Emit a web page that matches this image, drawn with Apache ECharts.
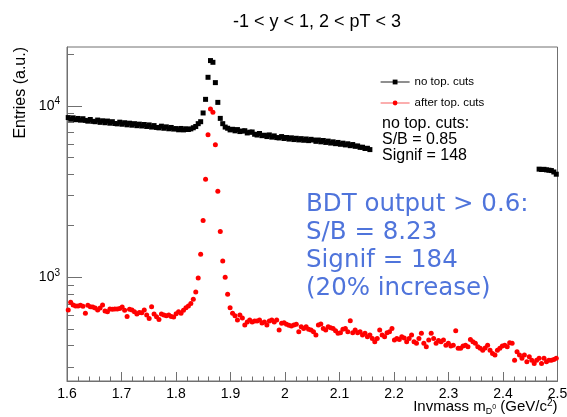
<!DOCTYPE html>
<html>
<head>
<meta charset="utf-8">
<script src="https://cdn.jsdelivr.net/npm/echarts@6/dist/echarts.min.js"></script>
<style>
  html, body { margin: 0; padding: 0; background: #fff; }
  #chart { width: 567px; height: 417px; }
</style>
</head>
<body>
<div id="chart"></div>
<script>
// Histogram binning of the invariant-mass axis
const massLow = 1.6;
const massHigh = 2.5;
const binWidth = 0.0045;

// "no top. cuts": visible bins 0..123 and 192..199
const noCutsLow = [
  8520, 8330, 8490, 8280, 8420, 8230, 8390, 8200, 8120, 8300,
  8100, 8060, 8240, 7990, 8160, 7950, 8130, 7900, 8060, 7870,
  7830, 8010, 7790, 7950, 7730, 7900, 7690, 7850, 7640, 7800,
  7610, 7760, 7560, 7720, 7500, 7650, 7460, 7420, 7590, 7380,
  7520, 7330, 7460, 7300, 7350, 7230, 7360, 7220, 7330, 7260,
  7320, 7430, 7560, 7850, 8060, 9064, 10885, 14640, 18330, 17910,
  13630, 10450, 8428, 7850, 7500, 7380, 7220, 7280, 7130, 7250,
  7060, 7110, 7140, 6930, 7000, 7020, 6810, 6740, 6880, 6680,
  6720, 6600, 6750, 6550, 6660, 6510, 6480, 6600, 6430, 6520,
  6380, 6490, 6340, 6450, 6310, 6420, 6280, 6390, 6250, 6360,
  6300, 6190, 6300, 6150, 6260, 6100, 6210, 6050, 6150, 6000,
  6100, 5950, 6040, 5900, 5990, 5840, 5930, 5790, 5820, 5710,
  5720, 5620, 5640, 5540
];
const noCutsHighFirstBin = 192;
const noCutsHigh = [4260, 4240, 4250, 4220, 4200, 4180, 4100, 3980];

// "after top. cuts": bins 0..199
const afterCuts = [
  641, 711, 686, 677, 677, 683, 675, 613, 683, 670,
  668, 660, 641, 660, 686, 633, 627, 650, 648, 650,
  650, 655, 668, 640, 587, 648, 641, 627, 608, 620,
  618, 641, 600, 572, 670, 608, 585, 565, 608, 599,
  594, 599, 587, 583, 610, 627, 613, 640, 662, 677,
  700, 740, 817, 987, 1357, 2134, 3725, 6763, 9567, 9144,
  5915, 3170, 1842, 1240, 996, 792, 661, 613, 594, 561,
  599, 576, 524, 545, 561, 545, 553, 553, 561, 538,
  545, 524, 553, 561, 545, 561, 490, 536, 540, 529,
  522, 517, 524, 529, 479, 512, 501, 512, 495, 490,
  479, 458, 524, 531, 501, 490, 512, 505, 501, 485,
  469, 472, 495, 501, 479, 555, 472, 490, 472, 479,
  458, 469, 448, 458, 438, 418, 438, 490, 458, 448,
  472, 479, 501, 428, 438, 432, 448, 440, 418, 438,
  458, 418, 410, 438, 469, 410, 391, 428, 469, 438,
  410, 425, 418, 428, 400, 410, 395, 400, 485, 383,
  383, 395, 400, 391, 432, 418, 410, 391, 383, 374,
  385, 400, 374, 358, 350, 374, 383, 395, 400, 392,
  413, 410, 327, 366, 350, 335, 350, 320, 342, 327,
  313, 327, 335, 313, 335, 320, 327, 327, 330, 335
];

// Axis ticks
const yMin = 247, yMax = 22000;
const yMajorTicks = [1000, 10000];
const yMinorTicks = [300, 400, 500, 600, 700, 800, 900, 2000, 3000, 4000, 5000, 6000, 7000, 8000, 9000, 20000];

const seriesNames = ['no top. cuts', 'after top. cuts'];
const noteLines = ['no top. cuts:', 'S/B = 0.85', 'Signif = 148'];
const bdtLines = ['BDT output > 0.6:', 'S/B = 8.23', 'Signif = 184', '(20% increase)'];

function binCenter(i) { return massLow + binWidth * (i + 0.5); }

const noCutsPoints = noCutsLow.map((v, i) => [binCenter(i), v])
  .concat(noCutsHigh.map((v, k) => [binCenter(noCutsHighFirstBin + k), v]));
const afterCutsPoints = afterCuts.map((v, i) => [binCenter(i), v]);
const yTickPoints = yMajorTicks.concat(yMinorTicks).map(v => [massLow, v]);

const frameColor = '#707070';
const font = '"Liberation Sans", Arial, Helvetica, sans-serif';

const chart = echarts.init(document.getElementById('chart'), null, { renderer: 'canvas' });

chart.setOption({
  animation: false,
  backgroundColor: '#fff',
  title: {
    text: '-1 < y < 1, 2 < pT < 3',
    left: 312,
    top: 8,
    textAlign: 'center',
    textStyle: { fontFamily: font, fontSize: 18, fontWeight: 'normal', color: '#000' }
  },
  grid: {
    left: 67, right: 9.5, top: 47, bottom: 36,
    outerBoundsMode: 'none',
    containLabel: false,
    show: true, borderColor: frameColor, borderWidth: 1, backgroundColor: 'transparent'
  },
  legend: {
    orient: 'vertical',
    left: 380,
    top: 76,
    padding: 0,
    itemWidth: 29,
    itemHeight: 6,
    itemGap: 9,
    selectedMode: false,
    textStyle: { fontFamily: font, fontSize: 11.5, color: '#000' },
    data: [
      { name: seriesNames[0], lineStyle: { color: '#444', width: 1.2, opacity: 1 } },
      { name: seriesNames[1], lineStyle: { color: '#f87878', width: 1.2, opacity: 1 } }
    ]
  },
  xAxis: {
    type: 'value',
    min: massLow,
    max: massHigh,
    interval: 0.1,
    name: 'Invmass m{sub|D}{subsup|0} (GeV/c{sup|2})',
    nameLocation: 'end',
    nameGap: 0,
    nameMoveOverlap: false,
    nameTextStyle: {
      fontFamily: font, fontSize: 15, color: '#000',
      align: 'right', verticalAlign: 'top', padding: [17, 0, 0, 0], lineHeight: 18,
      rich: {
        sub: { fontFamily: font, fontSize: 9, color: '#000', verticalAlign: 'bottom', lineHeight: 18 },
        subsup: { fontFamily: font, fontSize: 7, color: '#000', verticalAlign: 'middle', lineHeight: 18 },
        sup: { fontFamily: font, fontSize: 10, color: '#000', verticalAlign: 'top', lineHeight: 10 }
      }
    },
    axisLine: { show: true, onZero: false, lineStyle: { color: frameColor, width: 1 } },
    axisTick: { show: true, inside: true, length: 9, lineStyle: { color: frameColor, width: 1 } },
    minorTick: { show: true, splitNumber: 5, length: 4.5, lineStyle: { color: frameColor, width: 1 } },
    axisLabel: {
      fontFamily: font, fontSize: 14, color: '#000', margin: 6,
      formatter: v => String(Math.round(v * 10) / 10)
    },
    splitLine: { show: false }
  },
  yAxis: {
    type: 'log',
    logBase: 10,
    min: yMin,
    max: yMax,
    position: 'left',
    name: 'Entries (a.u.)',
    nameLocation: 'end',
    nameRotate: 90,
    nameGap: 0,
    nameMoveOverlap: false,
    nameTextStyle: {
      fontFamily: font, fontSize: 16, color: '#000',
      align: 'right', verticalAlign: 'bottom', padding: [0, 0, 38, 0]
    },
    axisLine: { show: true, lineStyle: { color: frameColor, width: 1 } },
    axisTick: { show: false },
    axisLabel: {
      customValues: yMajorTicks,
      margin: 7,
      formatter: v => '{base|10}{sup|' + Math.round(Math.log10(v)) + '}',
      rich: {
        base: { fontFamily: font, fontSize: 14, color: '#000', lineHeight: 18 },
        sup: { fontFamily: font, fontSize: 10, color: '#000', lineHeight: 10, verticalAlign: 'top' }
      }
    },
    splitLine: { show: false },
    minorTick: { show: false }
  },
  series: [
    {
      // tick marks of the log axis: long at decades, short in between
      name: 'yTicks',
      type: 'custom',
      silent: true,
      clip: false,
      data: yTickPoints,
      renderItem: (params, api) => {
        const v = api.value(1);
        const p = api.coord([api.value(0), v]);
        const len = yMajorTicks.indexOf(v) >= 0 ? 15 : 7;
        const y = Math.round(p[1]) + 0.5;
        return {
          type: 'line',
          shape: { x1: p[0], y1: y, x2: p[0] + len, y2: y },
          style: { stroke: frameColor, lineWidth: 1 }
        };
      },
      z: 1
    },
    {
      name: seriesNames[0],
      type: 'line',
      data: noCutsPoints,
      symbol: 'rect',
      symbolSize: 5,
      showSymbol: true,
      showAllSymbol: true,
      itemStyle: { color: '#000' },
      lineStyle: { width: 0, opacity: 0 },
      emphasis: { disabled: true },
      z: 3
    },
    {
      name: seriesNames[1],
      type: 'line',
      data: afterCutsPoints,
      symbol: 'circle',
      symbolSize: 5,
      showSymbol: true,
      showAllSymbol: true,
      itemStyle: { color: '#ff0000' },
      lineStyle: { width: 0, opacity: 0 },
      emphasis: { disabled: true },
      z: 4
    }
  ],
  graphic: [
    {
      type: 'text',
      left: 382,
      top: 115,
      z: 10,
      style: {
        text: noteLines.join('\n'),
        fontFamily: font, fontSize: 16, lineHeight: 16.3, fill: '#000'
      }
    },
    {
      type: 'text',
      left: 306,
      top: 191,
      z: 10,
      style: {
        text: bdtLines.join('\n'),
        fontFamily: '"DejaVu Sans", Verdana, sans-serif', fontSize: 24.5, lineHeight: 27.8, fill: '#4f74db'
      }
    }
  ]
});
</script>
</body>
</html>
